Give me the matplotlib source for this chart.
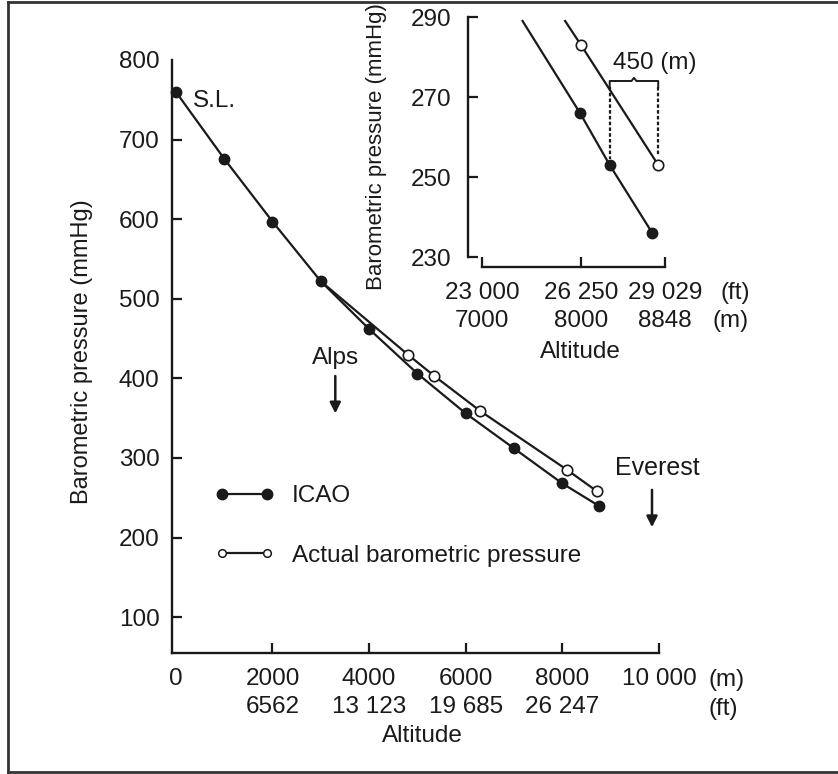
import matplotlib
matplotlib.use("Agg")
import matplotlib.pyplot as plt
from matplotlib.lines import Line2D

plt.rcParams['font.family'] = ['Liberation Sans', 'DejaVu Sans']

# main chart: altitude (m) vs pressure (mmHg)
alt_icao = [0, 1000, 2000, 3000, 4000, 5000, 6000, 7000, 8000, 8750]
p_icao = [760, 676, 597, 522, 462, 406, 356, 312, 268, 240]
# measured curve leaves the ICAO curve at 3000 m (first point has no marker)
alt_actual = [3000, 4800, 5350, 6300, 8100, 8720]
p_actual = [522, 430, 403, 359, 285, 258]

x_ticks = [0, 2000, 4000, 6000, 8000, 10000]
x_labels = ["0", "2000\n6562", "4000\n13 123", "6000\n19 685", "8000\n26 247", "10 000"]
y_ticks = [100, 200, 300, 400, 500, 600, 700, 800]

# inset: close-up near Everest
ins_alt_icao = [7410, 7990, 8290, 8720]
ins_p_icao = [289, 266, 253, 236]
ins_alt_actual = [7840, 8000, 8780]
ins_p_actual = [289, 283, 253]
ins_x_ticks = [7000, 8000, 8848]
ins_x_labels = ["23 000\n7000", "26 250\n8000", "29 029\n8848"]
ins_y_ticks = [230, 250, 270, 290]
gap_left, gap_right = 8290, 8780      # ICAO altitude for 253 mmHg vs Everest
gap_top = 274

INK = "#1a1a1a"
FS = 17.5
W, H = 838, 774


def px(x, y):
    return x / W, 1 - y / H


fig = plt.figure(figsize=(W / 100, H / 100), dpi=100)

# ---------- main axes ----------
ax = fig.add_axes([172 / W, (H - 653) / H, 487 / W, 593 / H])
ax.plot(alt_icao, p_icao, color=INK, lw=1.6, marker="o", ms=7.5,
        mfc=INK, mec=INK, clip_on=False, zorder=3)
ax.plot(alt_actual, p_actual, color=INK, lw=1.6, zorder=2)
ax.plot(alt_actual[1:], p_actual[1:], ls="none", marker="o", ms=7.5,
        mfc="white", mec=INK, mew=1.2, zorder=4)

ax.set_xlim(-80, 10000)
ax.set_ylim(55, 800)
for s in ["top", "right"]:
    ax.spines[s].set_visible(False)
for s in ["left", "bottom"]:
    ax.spines[s].set_linewidth(1.7)
    ax.spines[s].set_color(INK)

ax.set_xticks(x_ticks)
ax.set_xticklabels(x_labels, linespacing=1.33)
ax.set_yticks(y_ticks)
ax.tick_params(direction="in", length=7, width=1.6, color=INK,
               labelsize=FS, labelcolor=INK)
ax.tick_params(axis="x", pad=11)
ax.tick_params(axis="y", pad=9)
ax.xaxis.get_major_ticks()[0].tick1line.set_visible(False)
ax.yaxis.get_major_ticks()[-1].tick1line.set_visible(False)

ax.set_xlabel("Altitude", fontsize=FS, color=INK)
ax.xaxis.set_label_coords(0.515, -0.122)
ax.set_ylabel("Barometric pressure (mmHg)", fontsize=17, color=INK)
ax.yaxis.set_label_coords(-0.162, 0.508)

fig.text(*px(708, 680), "(m)", fontsize=FS, color=INK, va="center", ha="left")
fig.text(*px(708, 709), "(ft)", fontsize=FS, color=INK, va="center", ha="left")

ax.text(352, 749, "S.L.", fontsize=FS, color=INK, va="center", ha="left")

arrow = dict(arrowstyle="-|>", color=INK, lw=1.8, mutation_scale=16,
             shrinkA=0, shrinkB=0)
ax.text(3310, 426, "Alps", fontsize=FS, color=INK, ha="center", va="center")
ax.annotate("", xy=(3300, 356), xytext=(3300, 403), arrowprops=arrow)
ax.text(9960, 287, "Everest", fontsize=18, color=INK, ha="center", va="center",
        clip_on=False)
ax.annotate("", xy=(9855, 213), xytext=(9855, 260), arrowprops=arrow,
            annotation_clip=False)

handles = [
    Line2D([], [], color=INK, lw=1.6, marker="o", ms=7.5, mfc=INK, mec=INK),
    Line2D([], [], color=INK, lw=1.6, marker="o", ms=5.5, mfc="white", mec=INK,
           mew=1.1),
]
ax.legend(handles, ["ICAO", "Actual barometric pressure"], numpoints=2,
          loc="upper left", bbox_to_anchor=(0.087, 0.283), frameon=False,
          borderpad=0, borderaxespad=0, handlelength=2.45, handletextpad=0.75,
          labelspacing=1.55, fontsize=FS, labelcolor=INK)

# ---------- inset ----------
ins = fig.add_axes([468 / W, (H - 257) / H, 232 / W, 240 / H])
ins.plot(ins_alt_icao, ins_p_icao, color=INK, lw=1.6, zorder=2)
ins.plot(ins_alt_icao[1:], ins_p_icao[1:], ls="none", marker="o", ms=7.5,
         mfc=INK, mec=INK, zorder=3)
ins.plot(ins_alt_actual, ins_p_actual, color=INK, lw=1.6, zorder=2)
ins.plot(ins_alt_actual[1:], ins_p_actual[1:], ls="none", marker="o", ms=7.5,
         mfc="white", mec=INK, mew=1.2, zorder=4)

# 450 m gap: dashed drops and bracket
ins.plot([gap_left, gap_left], [gap_top - 1.5, ins_p_icao[2] + 1.5], color=INK,
         lw=1.6, ls=(0, (1.6, 1.0)))
ins.plot([gap_right, gap_right], [gap_top - 1.5, ins_p_actual[-1] + 2.5],
         color=INK, lw=1.6, ls=(0, (1.6, 1.0)))
mid = (gap_left + gap_right) / 2
ins.plot([gap_left, gap_left, mid - 25, mid, mid + 25, gap_right, gap_right],
         [gap_top - 1.5, gap_top, gap_top, gap_top + 0.8, gap_top, gap_top,
          gap_top - 1.5], color=INK, lw=1.4)
ins.text(8740, 278.5, "450 (m)", fontsize=FS, color=INK, ha="center",
         va="center")

ins.set_xlim(6859, 9202)
ins.set_ylim(230, 290)
ins.patch.set_alpha(0)
for s in ["top", "right"]:
    ins.spines[s].set_visible(False)
for s in ["left", "bottom"]:
    ins.spines[s].set_linewidth(1.7)
    ins.spines[s].set_color(INK)
ins.spines["bottom"].set_position(("outward", 7))
ins.spines["bottom"].set_bounds(7000, 8848)
ins.spines["left"].set_bounds(230, 290)

ins.set_xticks(ins_x_ticks)
ins.set_xticklabels(ins_x_labels, linespacing=1.33)
ins.set_yticks(ins_y_ticks)
ins.tick_params(direction="in", length=7, width=1.6, color=INK,
                labelsize=FS, labelcolor=INK)
ins.tick_params(axis="x", pad=11)
ins.tick_params(axis="y", pad=12)

ins.set_xlabel("Altitude", fontsize=FS, color=INK)
ins.xaxis.set_label_coords(0.483, -0.35)
ins.set_ylabel("Barometric pressure (mmHg)", fontsize=16, color=INK)
ins.yaxis.set_label_coords(-0.349, 0.462)

fig.text(*px(720, 293), "(ft)", fontsize=FS, color=INK, va="center", ha="left")
fig.text(*px(712, 321), "(m)", fontsize=FS, color=INK, va="center", ha="left")

# picture frame (right side falls outside the image)
frame = dict(color="#333333", lw=2, transform=fig.transFigure)
fig.add_artist(Line2D([8 / W, 8 / W], [1 - 772 / H, 1 - 1.5 / H], **frame))
fig.add_artist(Line2D([8 / W, 1], [1 - 1.5 / H, 1 - 1.5 / H], **frame))
fig.add_artist(Line2D([8 / W, 1], [1 - 772 / H, 1 - 772 / H], **frame))

fig.savefig("out.png", dpi=100)
